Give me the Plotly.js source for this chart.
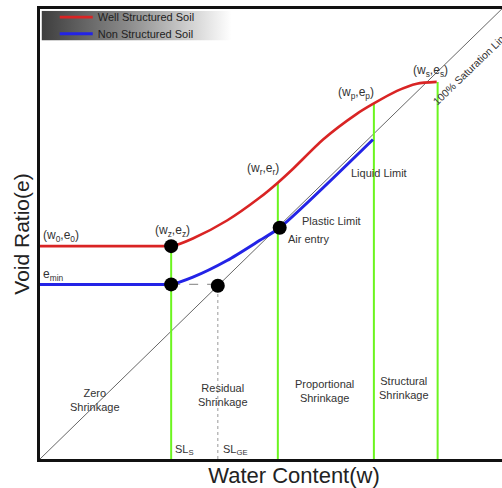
<!DOCTYPE html>
<html>
<head>
<meta charset="utf-8">
<script src="https://cdn.plot.ly/plotly-3.0.1.min.js"></script>
<style>
  html, body { margin: 0; padding: 0; background: #fff; overflow: hidden; }
  #chart { width: 548px; height: 488px; }
</style>
</head>
<body>
<div id="chart"></div>
<script>
// Shrinkage characteristic curves: void ratio against water content
var wellW = [0, 20, 27.2, 28.6, 33.1, 40.5, 47.6, 51.5, 54.8, 61.3, 68.6, 72.1, 77.3, 81.6, 85.9];
var wellE = [47.3, 47.3, 47.3, 47.3, 49.0, 53.0, 58.1, 61.4, 64.5, 71.0, 76.7, 78.9, 81.8, 83.4, 83.8];

var nonW = [0, 20, 27.0, 28.4, 33.1, 40.5, 47.6, 51.9, 72.1];
var nonE = [38.8, 38.8, 38.8, 38.8, 40.4, 44.1, 48.6, 51.4, 71.0];

// 100% saturation line (e = w)
var satW = [0, 115];
var satE = [0, 115];

// Limit water contents and the void ratio where each limit meets the curves
var limitW = [28.4, 51.5, 72.3, 86.1];
var limitTopE = [47.3, 61.4, 78.9, 83.8];

// Marked points: (wz,ez), shrinkage limit, SL_GE on saturation line, air entry
var pointW = [28.4, 28.4, 38.5, 51.9];
var pointE = [47.3, 38.8, 38.5, 51.4];

// Residual shrinkage limit projection
var slgeW = 38.5;
var eMin = 38.8;

var legendNames = ['Well Structured Soil', 'Non Structured Soil'];

// Point labels and zone labels
var labelTexts = [
  '(w<sub>0</sub>,e<sub>0</sub>)', 'e<sub>min</sub>',
  '(w<sub>z</sub>,e<sub>z</sub>)', '(w<sub>r</sub>,e<sub>r</sub>)',
  '(w<sub>p</sub>,e<sub>p</sub>)', '(w<sub>s</sub>,e<sub>s</sub>)',
  'Liquid Limit', 'Plastic Limit', 'Air entry',
  'Zero<br>Shrinkage', 'Residual<br>Shrinkage',
  'Proportional<br>Shrinkage', 'Structural<br>Shrinkage',
  'SL<sub>S</sub>', 'SL<sub>GE</sub>'
];
var labelW = [0.2, 0.2, 28.6, 48.3, 68.4, 84.6, 73.4, 56.3, 53.2, 11.9, 39.6, 61.7, 78.8, 28.9, 39.1];
var labelE = [49.6, 40.8, 50.6, 64.5, 81.4, 86.2, 63.6, 52.8, 48.8, 13.2, 14.2, 15.1, 15.8, 1.9, 1.9];
var labelAnchor = ['left', 'left', 'center', 'center', 'center', 'center', 'center', 'left', 'left',
                   'center', 'center', 'center', 'center', 'left', 'left'];

var satLabel = '100% Saturation Line';

// vertical limit lines as one broken trace
var gx = [], gy = [];
limitW.forEach(function (w, i) {
  gx.push(w, w, null);
  gy.push(0, limitTopE[i], null);
});

var FONT = 'Liberation Sans, Arial, sans-serif';

var traces = [
  { x: satW, y: satE, mode: 'lines', line: { color: '#666', width: 1 }, showlegend: false, hoverinfo: 'skip' },
  { x: gx, y: gy, mode: 'lines', line: { color: '#6cf51f', width: 2 }, showlegend: false, hoverinfo: 'skip' },
  { x: [pointW[1], slgeW], y: [eMin, eMin], mode: 'lines', line: { color: '#999', width: 1.2, dash: 'dash' }, showlegend: false },
  { x: [slgeW, slgeW], y: [0, pointE[2]], mode: 'lines', line: { color: '#aaa', width: 1.2, dash: 'dot' }, showlegend: false },
  { x: wellW, y: wellE, mode: 'lines', name: legendNames[0], legend: 'legend',
    line: { color: '#d92424', width: 2.6, shape: 'spline', smoothing: 0.7 } },
  { x: nonW, y: nonE, mode: 'lines', name: legendNames[1], legend: 'legend2',
    line: { color: '#2323e6', width: 3, shape: 'spline', smoothing: 0.7 } },
  { x: pointW, y: pointE, mode: 'markers', marker: { color: '#000', size: 14 }, showlegend: false }
];

var annotations = labelTexts.map(function (t, i) {
  return {
    x: labelW[i], y: labelE[i], xref: 'x', yref: 'y', text: t, showarrow: false,
    xanchor: labelAnchor[i], yanchor: 'middle',
    font: { family: FONT, size: (i < 6 ? 12 : 11), color: '#333' }
  };
});
annotations.push({
  x: 93.2, y: 87.0, xref: 'x', yref: 'y', text: satLabel, showarrow: false,
  textangle: -44, xanchor: 'center', yanchor: 'middle',
  font: { family: FONT, size: 10.5, color: '#333' }
});

// grey-to-white band behind the legend
var grad = '<svg xmlns="http://www.w3.org/2000/svg" width="200" height="30">' +
  '<defs><linearGradient id="g" x1="0" y1="0" x2="1" y2="0">' +
  '<stop offset="0" stop-color="#3e3e3e"/><stop offset="0.45" stop-color="#8a8a8a"/>' +
  '<stop offset="1" stop-color="#ffffff"/></linearGradient></defs>' +
  '<rect width="200" height="30" fill="url(#g)"/></svg>';

var legendStyle = function (ypos) {
  return {
    x: 0.029, y: ypos, xanchor: 'left', yanchor: 'middle',
    bgcolor: 'rgba(0,0,0,0)', borderwidth: 0,
    font: { family: FONT, size: 11, color: '#222' }, itemwidth: 33
  };
};

var layout = {
  width: 548, height: 488,
  margin: { l: 40, r: 0, t: 9, b: 29 },
  paper_bgcolor: '#fff', plot_bgcolor: '#fff',
  font: { family: FONT, color: '#222' },
  xaxis: {
    range: [0, 110], showgrid: false, zeroline: false, showticklabels: false, ticks: '',
    showline: true, linecolor: '#111', linewidth: 3, mirror: true,
    title: { text: 'Water Content(w)', font: { family: FONT, size: 22, color: '#222' }, standoff: 9 }
  },
  yaxis: {
    range: [0, 100], showgrid: false, zeroline: false, showticklabels: false, ticks: '',
    showline: true, linecolor: '#111', linewidth: 3,
    title: { text: 'Void Ratio(e)', font: { family: FONT, size: 21, color: '#222' }, standoff: 2 }
  },
  showlegend: true,
  legend: legendStyle(0.982),
  legend2: legendStyle(0.945),
  images: [{
    source: 'data:image/svg+xml;utf8,' + encodeURIComponent(grad),
    xref: 'paper', yref: 'paper', x: 0.003, y: 0.996, sizex: 0.374, sizey: 0.066,
    xanchor: 'left', yanchor: 'top', sizing: 'stretch', layer: 'below'
  }],
  annotations: annotations
};

Plotly.newPlot('chart', traces, layout, { displayModeBar: false, staticPlot: true });
</script>
</body>
</html>
